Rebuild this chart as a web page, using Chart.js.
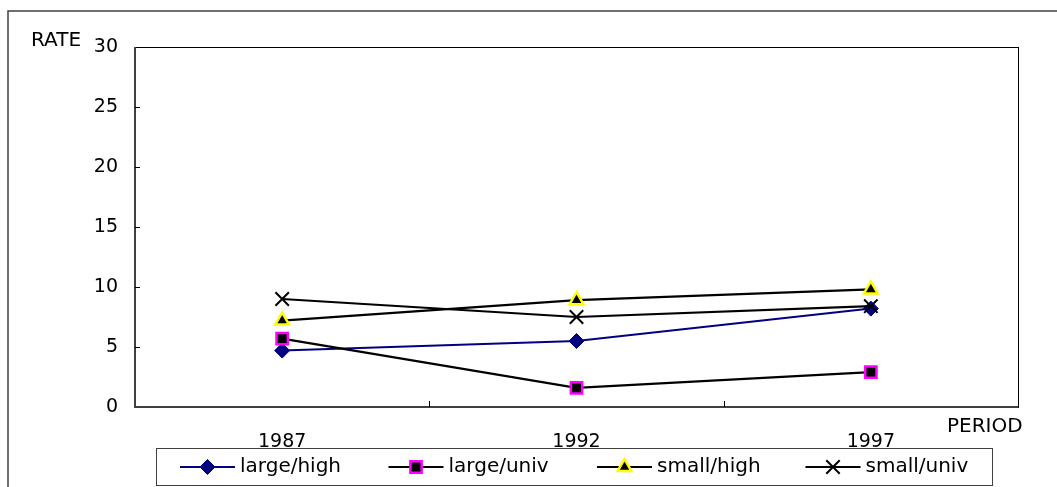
<!DOCTYPE html>
<html>
<head>
<meta charset="utf-8">
<script src="https://cdn.jsdelivr.net/npm/chart.js@4"></script>
<style>
  html, body { margin: 0; padding: 0; background: #fff; }
  #wrap { width: 1057px; height: 487px; position: relative; }
</style>
</head>
<body>
<div id="wrap"><canvas id="chart" width="1057" height="487"></canvas></div>
<script>
const periods = ["1987", "1992", "1997"]
const largeHigh = [4.7, 5.5, 8.2]
const largeUniv = [5.7, 1.6, 2.9]
const smallHigh = [7.2, 8.9, 9.8]
const smallUniv = [9.0, 7.5, 8.4]
const yTicks = [0, 5, 10, 15, 20, 25, 30]

const FONT = "DejaVu Sans"

function drawMarker(ctx, style, r, x, y) {
  Chart.helpers.drawPoint(ctx, { pointStyle: style, radius: r, borderWidth: ctx.lineWidth, rotation: 0 }, x, y)
}

// frame, inward ticks, axis titles and the excel-style legend
const decor = {
  id: "decor",
  beforeDatasetsDraw(chart) {
    const { ctx, chartArea: a } = chart
    const x = chart.scales.x, y = chart.scales.y
    ctx.save()
    // outer chart border (top + left only visible)
    ctx.strokeStyle = "#404040"
    ctx.lineWidth = 1.5
    ctx.beginPath()
    ctx.moveTo(8, 487)
    ctx.lineTo(8, 11)
    ctx.lineTo(1057, 11)
    ctx.stroke()
    // plot area
    ctx.strokeStyle = "#000"
    ctx.lineWidth = 1
    ctx.strokeRect(a.left + 0.5, a.top + 0.5, a.right - a.left, a.bottom - a.top)
    ctx.strokeStyle = "#404040"
    ctx.lineWidth = 2
    ctx.beginPath()
    ctx.moveTo(a.left, a.top)
    ctx.lineTo(a.left, a.bottom)
    ctx.lineTo(a.right, a.bottom)
    ctx.stroke()
    ctx.lineWidth = 1
    ctx.strokeStyle = "#000"
    ctx.beginPath()
    yTicks.slice(1, -1).forEach(v => {
      const py = Math.round(y.getPixelForValue(v)) + 0.5
      ctx.moveTo(a.left, py)
      ctx.lineTo(a.left + 5, py)
    })
    for (let i = 0; i < periods.length - 1; i++) {
      const px = Math.round((x.getPixelForValue(i) + x.getPixelForValue(i + 1)) / 2) + 0.5
      ctx.moveTo(px, a.bottom)
      ctx.lineTo(px, a.bottom - 6)
    }
    ctx.stroke()
    ctx.fillStyle = "#000"
    ctx.font = "20px " + FONT
    ctx.textBaseline = "middle"
    ctx.textAlign = "left"
    ctx.fillText("RATE", 31, 41)
    ctx.fillText("PERIOD", 947, 427)
    ctx.restore()
  },
  afterDraw(chart) {
    const { ctx } = chart
    ctx.save()
    ctx.fillStyle = "#fff"
    ctx.fillRect(156, 448, 836, 37)
    ctx.strokeStyle = "#404040"
    ctx.lineWidth = 1
    ctx.strokeRect(156.5, 448.5, 836, 37)
    const cy = 467
    chart.data.datasets.forEach((ds, i) => {
      const x0 = 180 + i * 208.5
      ctx.strokeStyle = ds.borderColor
      ctx.lineWidth = ds.borderWidth
      ctx.beginPath()
      ctx.moveTo(x0, cy)
      ctx.lineTo(x0 + 55, cy)
      ctx.stroke()
      ctx.fillStyle = ds.pointBackgroundColor
      ctx.strokeStyle = ds.pointBorderColor
      ctx.lineWidth = ds.pointBorderWidth
      drawMarker(ctx, ds.pointStyle, ds.pointRadius, x0 + 27.5, cy)
      ctx.fillStyle = "#000"
      ctx.font = "20px " + FONT
      ctx.textAlign = "left"
      ctx.textBaseline = "middle"
      ctx.fillText(ds.label, x0 + 60, cy)
    })
    ctx.restore()
  }
}

function series(label, data, color, lineW, style, radius, fill, border, bw, order) {
  return {
    label: label,
    data: data,
    borderColor: color,
    borderWidth: lineW,
    pointStyle: style,
    pointRadius: radius,
    pointHoverRadius: radius,
    pointBackgroundColor: fill,
    pointBorderColor: border,
    pointBorderWidth: bw,
    tension: 0,
    fill: false,
    order: order
  }
}

new Chart(document.getElementById("chart"), {
  type: "line",
  data: {
    labels: periods,
    datasets: [
      series("large/high", largeHigh, "#000080", 2, "rectRot", 7.5, "#000080", "#000080", 1, 4),
      series("large/univ", largeUniv, "#000", 2.2, "rect", 8, "#000", "#ff00ff", 2.5, 3),
      series("small/high", smallHigh, "#000", 2.2, "triangle", 8, "#000", "#ffff00", 2.5, 2),
      series("small/univ", smallUniv, "#000", 2.2, "crossRot", 9.5, "#000", "#000", 2, 1)
    ]
  },
  plugins: [decor],
  options: {
    responsive: false,
    animation: false,
    events: [],
    layout: { padding: { left: 0, top: 47, right: 39, bottom: 0 } },
    scales: {
      x: {
        type: "category",
        offset: true,
        grid: { display: false, drawTicks: false },
        border: { display: false },
        ticks: { color: "#000", font: { family: FONT, size: 19 }, padding: 24, maxRotation: 0 },
        afterFit(s) { s.height = 80 }
      },
      y: {
        min: 0,
        max: 30,
        grid: { display: false, drawTicks: false },
        border: { display: false },
        afterBuildTicks(s) { s.ticks = yTicks.map(v => ({ value: v })) },
        ticks: { color: "#000", font: { family: FONT, size: 19 }, padding: 17 },
        afterFit(s) { s.width = 135 }
      }
    },
    plugins: {
      legend: { display: false },
      tooltip: { enabled: false }
    }
  }
})
</script>
</body>
</html>
